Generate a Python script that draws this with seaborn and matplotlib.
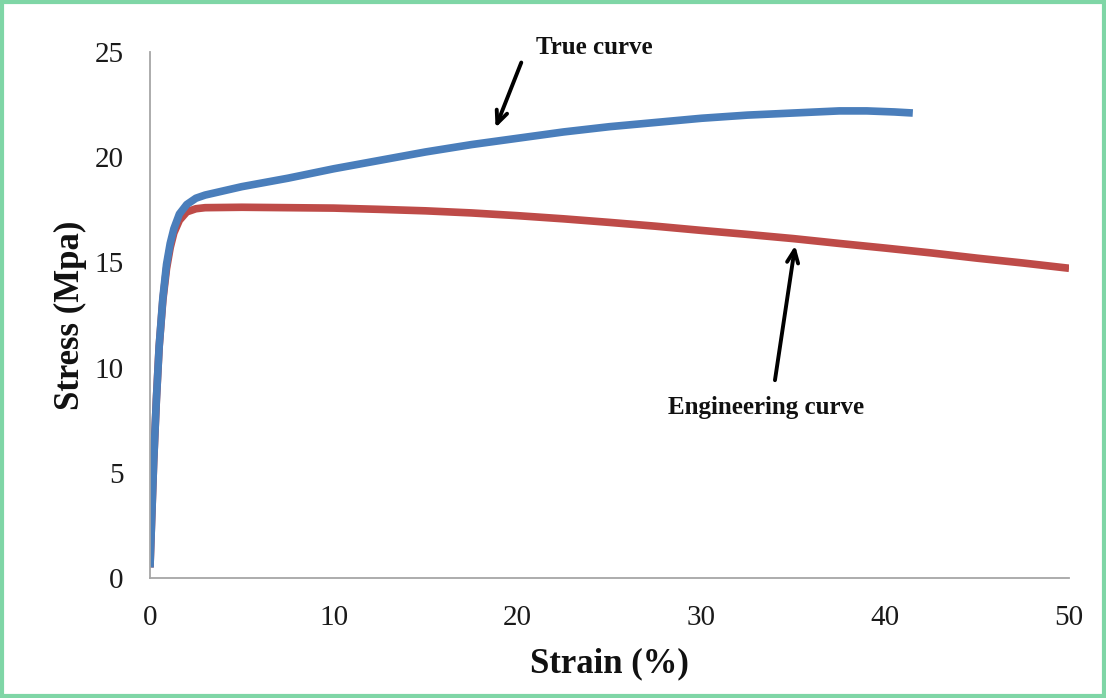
import matplotlib
matplotlib.use("Agg")
import matplotlib.pyplot as plt
import seaborn as sns
import pandas as pd
from matplotlib.patches import Rectangle

# strain (%) / stress (MPa)
true_strain = [0.0, 0.1, 0.2, 0.35, 0.5, 0.7, 0.9, 1.1, 1.3, 1.6, 2.0, 2.5, 3.0, 4.0, 5.0,
               7.5, 10.0, 12.5, 15.0, 17.5, 20.0, 22.5, 25.0, 27.5, 30.0, 32.5, 35.0,
               37.5, 39.0, 40.5, 41.5]
true_stress = [0.5, 3.0, 5.5, 8.5, 11.0, 13.3, 14.9, 15.9, 16.6, 17.3, 17.75, 18.05, 18.2,
               18.4, 18.6, 19.0, 19.45, 19.85, 20.25, 20.6, 20.9, 21.2, 21.45, 21.65,
               21.85, 22.0, 22.1, 22.2, 22.2, 22.15, 22.1]

eng_strain = [0.0, 0.1, 0.2, 0.35, 0.5, 0.7, 0.9, 1.1, 1.3, 1.6, 2.0, 2.5, 3.0, 5.0,
              7.5, 10.0, 12.5, 15.0, 17.5, 20.0, 22.5, 25.0, 27.5, 30.0, 32.5, 35.0,
              37.5, 40.0, 42.5, 45.0, 47.5, 50.0]
eng_stress = [0.5, 3.0, 5.5, 8.5, 11.0, 13.2, 14.7, 15.7, 16.4, 17.0, 17.4, 17.55, 17.6,
              17.62, 17.6, 17.58, 17.52, 17.45, 17.35, 17.22, 17.07, 16.9, 16.72, 16.52,
              16.33, 16.13, 15.9, 15.68, 15.45, 15.2, 14.97, 14.72]

true_df = pd.DataFrame({"strain": true_strain, "stress": true_stress})
eng_df = pd.DataFrame({"strain": eng_strain, "stress": eng_stress})

sns.set_style("white")
plt.rcParams["font.family"] = ["Liberation Serif", "DejaVu Serif"]

fig = plt.figure(figsize=(11.06, 6.98), dpi=100)
ax = fig.add_axes([0.1356, 0.172, 0.831, 0.7535])

sns.lineplot(data=eng_df, x="strain", y="stress", ax=ax, color="#be4b48", linewidth=5.5,
             sort=False, solid_capstyle="butt")
sns.lineplot(data=true_df, x="strain", y="stress", ax=ax, color="#4a7ebb", linewidth=5.5,
             sort=False, solid_capstyle="butt")

ax.set_xlim(0, 50)
ax.set_ylim(0, 25)
ax.set_xticks(range(0, 51, 10))
ax.set_yticks(range(0, 26, 5))
sns.despine(ax=ax)
for side in ["left", "bottom"]:
    ax.spines[side].set_color("#a6a6a6")
    ax.spines[side].set_linewidth(1.3)
ax.tick_params(axis="y", direction="out", length=6, width=1.2, color="#a6a6a6",
               labelsize=21, labelcolor="#1a1a1a", pad=13)
ax.tick_params(axis="x", direction="out", length=7.5, width=1.2, color="#a6a6a6",
               labelsize=21, labelcolor="#1a1a1a", pad=12)

ax.set_xlabel("Strain (%)", fontsize=25, fontweight="bold", labelpad=12, color="#111111")
ax.set_ylabel("Stress (Mpa)", fontsize=25, fontweight="bold", labelpad=5, color="#111111")

arrow = dict(arrowstyle="->,head_length=0.9,head_width=0.4", color="black", lw=2.8,
             shrinkA=0, shrinkB=0)
ax.text(21.0, 25.2, "True curve", fontsize=18, fontweight="bold", ha="left", va="center",
        color="#111111", clip_on=False)
ax.annotate("", xy=(18.8, 21.4), xytext=(20.2, 24.5), textcoords="data",
            arrowprops=arrow, annotation_clip=False)
ax.annotate("", xy=(35.1, 15.8), xytext=(34.0, 9.4), textcoords="data", arrowprops=arrow)
ax.text(33.5, 8.1, "Engineering curve", fontsize=18, fontweight="bold",
        ha="center", va="center", color="#111111")

fig.patches.append(Rectangle((0.002, 0.003), 0.996, 0.994, transform=fig.transFigure,
                             fill=False, edgecolor="#7fd6a6", linewidth=3))

fig.savefig("out.png", dpi=100)
